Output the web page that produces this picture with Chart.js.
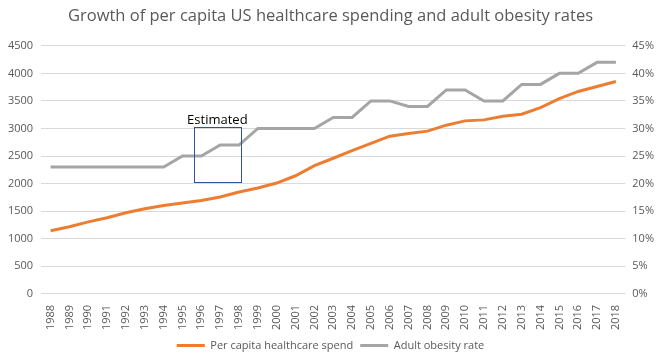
<!DOCTYPE html>
<html lang="en">
<head>
  <meta charset="UTF-8" />
  <title>Healthcare spending and obesity</title>
  <script src="https://cdn.jsdelivr.net/npm/chart.js"></script>
  <style>
    html, body { margin: 0; padding: 0; background: #fff; }
    .chart-container { width: 661px; height: 361px; }
  </style>
</head>
<body>
  <div class="chart-container">
    <canvas id="growthChart"></canvas>
  </div>

  <script>
    const years = [
      "1988", "1989", "1990", "1991", "1992", "1993", "1994", "1995", "1996", "1997", "1998",
      "1999", "2000", "2001", "2002", "2003", "2004", "2005", "2006", "2007", "2008",
      "2009", "2010", "2011", "2012", "2013", "2014", "2015", "2016", "2017", "2018"
    ];
    const spendPerCapita = [
      1146, 1218, 1305, 1380, 1470, 1542, 1602, 1650, 1692, 1758, 1848,
      1920, 2010, 2142, 2325, 2460, 2598, 2730, 2860, 2910, 2952,
      3060, 3138, 3156, 3222, 3258, 3378, 3540, 3672, 3762, 3852
    ];
    const obesityRate = [
      0.23, 0.23, 0.23, 0.23, 0.23, 0.23, 0.23, 0.25, 0.25, 0.27, 0.27,
      0.30, 0.30, 0.30, 0.30, 0.32, 0.32, 0.35, 0.35, 0.34, 0.34,
      0.37, 0.37, 0.35, 0.35, 0.38, 0.38, 0.40, 0.40, 0.42, 0.42
    ];
    // "Estimated" box, in category index / spend units
    const estimatedBox = { fromIndex: 7.6, toIndex: 10.1, low: 2030, high: 3020, label: "Estimated" };

    const textColor = "#595959";
    const fontFamily = "'Open Sans', Arial, sans-serif";

    const estimatedPlugin = {
      id: "estimated",
      afterDatasetsDraw(chart) {
        const ctx = chart.ctx;
        const x = chart.scales.x, y = chart.scales.y;
        const left = x.getPixelForValue(estimatedBox.fromIndex);
        const right = x.getPixelForValue(estimatedBox.toIndex);
        const top = y.getPixelForValue(estimatedBox.high);
        const bottom = y.getPixelForValue(estimatedBox.low);
        ctx.save();
        ctx.strokeStyle = "#2F5597";
        ctx.lineWidth = 1;
        ctx.strokeRect(Math.round(left) + 0.5, Math.round(top) + 0.5, Math.round(right - left), Math.round(bottom - top));
        ctx.fillStyle = "#000";
        ctx.font = "13px " + fontFamily;
        ctx.textAlign = "center";
        ctx.textBaseline = "bottom";
        ctx.fillText(estimatedBox.label, (left + right) / 2, top - 1);
        ctx.restore();
      }
    };

    new Chart(document.getElementById("growthChart"), {
      type: "line",
      data: {
        labels: years,
        datasets: [
          {
            label: "Per capita healthcare spend",
            data: spendPerCapita,
            borderColor: "#ED7D31",
            backgroundColor: "#ED7D31",
            borderWidth: 3,
            pointRadius: 0,
            yAxisID: "y"
          },
          {
            label: "Adult obesity rate",
            data: obesityRate,
            borderColor: "#A5A5A5",
            backgroundColor: "#A5A5A5",
            borderWidth: 3,
            pointRadius: 0,
            yAxisID: "y1"
          }
        ]
      },
      options: {
        responsive: true,
        maintainAspectRatio: false,
        animation: false,
        layout: { padding: { left: 0, right: 0, top: 0, bottom: 0 } },
        scales: {
          x: {
            offset: true,
            grid: { display: false },
            border: { display: false },
            ticks: {
              color: textColor,
              font: { family: fontFamily, size: 11 },
              minRotation: 90,
              maxRotation: 90,
              autoSkip: false,
              padding: 3
            }
          },
          y: {
            position: "left",
            min: 0,
            max: 4500,
            grid: { color: "#D9D9D9", drawTicks: false },
            border: { display: false },
            ticks: {
              stepSize: 500,
              color: textColor,
              font: { family: fontFamily, size: 11 },
              padding: 8,
              callback: v => String(v)
            }
          },
          y1: {
            position: "right",
            min: 0,
            max: 0.45,
            grid: { display: false, drawTicks: false },
            border: { display: false },
            ticks: {
              stepSize: 0.05,
              color: textColor,
              font: { family: fontFamily, size: 11 },
              padding: 7,
              callback: v => Math.round(v * 100) + "%"
            }
          }
        },
        plugins: {
          title: {
            display: true,
            text: "Growth of per capita US healthcare spending and adult obesity rates",
            color: textColor,
            font: { family: fontFamily, size: 16.5, weight: "normal" },
            padding: { top: 6, bottom: 20 }
          },
          legend: {
            position: "bottom",
            labels: {
              color: textColor,
              font: { family: fontFamily, size: 11 },
              usePointStyle: true,
              pointStyle: "line",
              pointStyleWidth: 28,
              boxHeight: 3,
              padding: 7
            }
          },
          tooltip: { enabled: false }
        }
      },
      plugins: [estimatedPlugin]
    });
  </script>
</body>
</html>
